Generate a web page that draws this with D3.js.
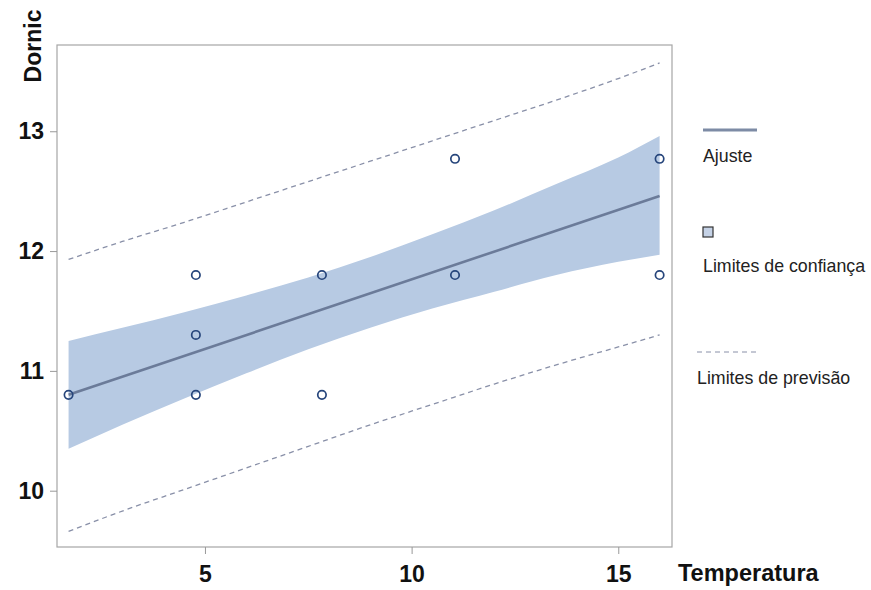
<!DOCTYPE html>
<html><head><meta charset="utf-8">
<script src="https://cdn.jsdelivr.net/npm/d3@7"></script>
<style>body{margin:0;background:#fff}</style>
</head><body>
<svg id="c" width="871" height="590"></svg>
<script>
// Observed data points (Temperatura, Dornic)
const temperatura = [1.7, 4.78, 4.78, 4.78, 7.83, 7.83, 11.05, 11.05, 16.0, 16.0];
const dornic      = [10.8, 11.8, 11.3, 10.8, 11.8, 10.8, 12.77, 11.8, 12.77, 11.8];
// Fitted line end points
const fitX = [1.7, 16.0];
const fitY = [10.80, 12.46];
// Confidence & prediction limits read along x
const bandX     = [1.7, 3, 4.5, 6, 7.5, 9, 10.5, 12, 13.5, 15, 16.0];
const confUpper = [11.25, 11.36, 11.49, 11.63, 11.78, 11.95, 12.14, 12.34, 12.56, 12.78, 12.96];
const confLower = [10.35, 10.55, 10.77, 10.98, 11.18, 11.36, 11.52, 11.66, 11.80, 11.91, 11.97];
const predUpper = [11.93, 12.08, 12.24, 12.41, 12.58, 12.75, 12.92, 13.09, 13.26, 13.44, 13.57];
const predLower = [9.66, 9.83, 10.01, 10.19, 10.37, 10.55, 10.72, 10.89, 11.05, 11.20, 11.30];
const xTicks = [5, 10, 15];
const yTicks = [10, 11, 12, 13];
const legendLabels = ["Ajuste", "Limites de confiança", "Limites de previsão"];

const svg = d3.select("#c");
const L = 57, R = 672, T = 45, B = 547;
const x = d3.scaleLinear().domain([1.42, 16.3]).range([L, R]);
const y = d3.scaleLinear().domain([9.53, 13.72]).range([B, T]);

const band = bandX.map((v, i) => ({x: v, cu: confUpper[i], cl: confLower[i], pu: predUpper[i], pl: predLower[i]}));

// confidence band
svg.append("path").datum(band)
  .attr("d", d3.area().x(d => x(d.x)).y0(d => y(d.cl)).y1(d => y(d.cu)).curve(d3.curveMonotoneX))
  .attr("fill", "#b7cae3");

// prediction limits
["pu", "pl"].forEach(k => {
  svg.append("path").datum(band)
    .attr("d", d3.line().x(d => x(d.x)).y(d => y(d[k])).curve(d3.curveMonotoneX))
    .attr("fill", "none").attr("stroke", "#8990a8").attr("stroke-width", 1.3)
    .attr("stroke-dasharray", "5,4");
});

// fit line
svg.append("path").datum(fitX.map((v, i) => [v, fitY[i]]))
  .attr("d", d3.line().x(d => x(d[0])).y(d => y(d[1])))
  .attr("stroke", "#6b7b99").attr("stroke-width", 2.6).attr("fill", "none");

// points
svg.selectAll("circle.pt").data(temperatura.map((v, i) => [v, dornic[i]]))
  .enter().append("circle").attr("class", "pt")
  .attr("cx", d => x(d[0])).attr("cy", d => y(d[1])).attr("r", 4.2)
  .attr("fill", "none").attr("stroke", "#26457b").attr("stroke-width", 1.7);

// frame
svg.append("rect").attr("x", L).attr("y", T).attr("width", R - L).attr("height", B - T)
  .attr("fill", "none").attr("stroke", "#a6a6a6").attr("stroke-width", 1.2);

// axes
const fontAxis = "'Liberation Sans', Arial, sans-serif";
const xa = svg.append("g").attr("transform", `translate(0,${B})`)
  .call(d3.axisBottom(x).tickValues(xTicks).tickSize(7).tickPadding(12).tickFormat(d3.format("d")));
const ya = svg.append("g").attr("transform", `translate(${L},0)`)
  .call(d3.axisLeft(y).tickValues(yTicks).tickSize(7).tickPadding(6).tickFormat(d3.format("d")));
[xa, ya].forEach(g => {
  g.select(".domain").remove();
  g.selectAll("line").attr("stroke", "#999");
  g.selectAll("text").attr("font-family", fontAxis).attr("font-weight", "bold")
    .attr("font-size", 23).attr("fill", "#111");
});

svg.append("text").attr("x", 678).attr("y", 581).text("Temperatura")
  .attr("font-family", fontAxis).attr("font-weight", "bold").attr("font-size", 23.5).attr("fill", "#111");
svg.append("text").attr("transform", "translate(41,46) rotate(-90)").attr("text-anchor", "middle")
  .text("Dornic").attr("font-family", fontAxis).attr("font-weight", "bold").attr("font-size", 23).attr("fill", "#111");

// legend
const lg = svg.append("g").attr("font-family", "'Liberation Sans', Arial, sans-serif")
  .attr("font-size", 17.8).attr("fill", "#222");
lg.append("line").attr("x1", 703).attr("x2", 757).attr("y1", 130).attr("y2", 130)
  .attr("stroke", "#7d8ba5").attr("stroke-width", 3);
lg.append("text").attr("x", 703).attr("y", 162).text(legendLabels[0]);
lg.append("rect").attr("x", 703).attr("y", 227).attr("width", 10).attr("height", 10)
  .attr("fill", "#c5d2e6").attr("stroke", "#333").attr("stroke-width", 1.2);
lg.append("text").attr("x", 703).attr("y", 272).text(legendLabels[1]);
lg.append("line").attr("x1", 697).attr("x2", 757).attr("y1", 352).attr("y2", 352)
  .attr("stroke", "#8990a8").attr("stroke-width", 1).attr("stroke-dasharray", "5,4");
lg.append("text").attr("x", 697).attr("y", 384).text(legendLabels[2]);
</script>
</body></html>
